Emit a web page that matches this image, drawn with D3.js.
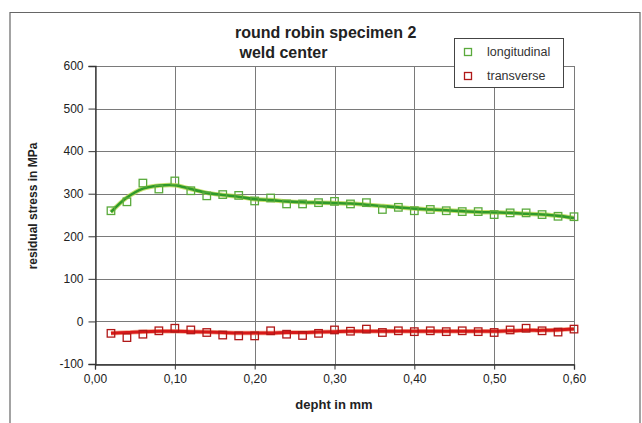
<!DOCTYPE html>
<html>
<head>
<meta charset="utf-8">
<script src="https://cdn.jsdelivr.net/npm/d3@7"></script>
<style>
  html, body { margin: 0; padding: 0; background: #fff; }
  svg { display: block; font-family: "Liberation Sans", Arial, sans-serif; }
</style>
</head>
<body>
<svg id="chart" width="642" height="423"></svg>
<script>
// depth positions of the measurements (mm)
const depth = [0.02,0.04,0.06,0.08,0.10,0.12,0.14,0.16,0.18,0.20,
               0.22,0.24,0.26,0.28,0.30,0.32,0.34,0.36,0.38,0.40,
               0.42,0.44,0.46,0.48,0.50,0.52,0.54,0.56,0.58,0.60];

// measured residual stress (MPa)
const longitudinal = [260,281,325,311,330,307,295,298,296,283,
                      290,276,276,279,282,276,279,263,268,260,
                      263,260,258,258,251,255,255,251,247,246];
const transverse   = [-28,-38,-30,-22,-16,-20,-26,-32,-34,-34,
                      -22,-30,-33,-28,-20,-23,-18,-26,-22,-24,
                      -22,-24,-22,-24,-26,-20,-16,-22,-25,-18];

// smoothed trend curves (MPa)
const longitudinalFit = [257,291,312,319,320,311,302,297,293,287,
                         285,282,280,279,278,277,274,271,268,265,
                         263,261,259,257,256,255,253,251,248,243];
const transverseFit   = [-28,-26,-24,-23,-23,-24,-25,-26,-27,-27,
                         -27,-26,-26,-25,-24,-23,-23,-23,-23,-23,
                         -23,-23,-23,-23,-23,-22,-21,-21,-20,-18];

const xTicks = [0, 0.1, 0.2, 0.3, 0.4, 0.5, 0.6];
const yTicks = [-100, 0, 100, 200, 300, 400, 500, 600];

const titleLines = ["round robin specimen 2", " weld center"];
const seriesNames = ["longitudinal", "transverse"];

const svg = d3.select("#chart");

// outer frame
svg.append("path")
  .attr("d", "M10,423 L10,12.5 L640,12.5 L640,423")
  .attr("fill", "none").attr("stroke", "#666").attr("stroke-width", 1.2);

const plot = { left: 95, right: 574, top: 66, bottom: 364 };

const x = d3.scaleLinear().domain([0, 0.6]).range([plot.left, plot.right]);
const y = d3.scaleLinear().domain([-100, 600]).range([plot.bottom, plot.top]);

// grid
const grid = svg.append("g");
grid.selectAll("line.h").data(yTicks).join("line")
  .attr("x1", plot.left).attr("x2", plot.right)
  .attr("y1", d => Math.round(y(d)) + 0.5).attr("y2", d => Math.round(y(d)) + 0.5)
  .attr("stroke", "#7a7a7a").attr("stroke-width", 1);
grid.selectAll("line.v").data(xTicks).join("line")
  .attr("y1", plot.top).attr("y2", plot.bottom)
  .attr("x1", d => Math.round(x(d)) + 0.5).attr("x2", d => Math.round(x(d)) + 0.5)
  .attr("stroke", "#7a7a7a").attr("stroke-width", 1);

// decimal comma on the depth axis, plain hyphen minus on the stress axis
const fmtX = d => d3.format(".2f")(d).replace(".", ",");
const fmtY = d => String(d);

// axes
const yAxis = svg.append("g")
  .attr("transform", `translate(${plot.left + 0.5},0)`)
  .call(d3.axisLeft(y).tickValues(yTicks).tickSize(7).tickPadding(5).tickFormat(fmtY));
const xAxis = svg.append("g")
  .attr("transform", `translate(0,${Math.round(plot.bottom) + 0.5})`)
  .call(d3.axisBottom(x).tickValues(xTicks).tickSize(5).tickPadding(5).tickFormat(fmtX));
[xAxis, yAxis].forEach(a => {
  a.select(".domain").attr("stroke", "#333").attr("stroke-width", 1.3);
  a.selectAll(".tick line").attr("stroke", "#333");
  a.selectAll(".tick text").attr("fill", "#222").style("font-size", "12px")
    .style("font-family", "'Liberation Sans', Arial, sans-serif");
});

// axis titles
svg.append("text")
  .attr("transform", `translate(37,206) rotate(-90)`)
  .attr("text-anchor", "middle")
  .style("font-size", "12px").style("font-weight", "bold").attr("fill", "#222")
  .text("residual stress in MPa");
svg.append("text")
  .attr("x", 334).attr("y", 409)
  .attr("text-anchor", "middle")
  .style("font-size", "13px").style("font-weight", "bold").attr("fill", "#222")
  .text("depht in mm");

// title
svg.append("text")
  .attr("x", 235).attr("y", 38)
  .style("font-size", "16px").style("font-weight", "bold").attr("fill", "#222")
  .selectAll("tspan").data(titleLines).join("tspan")
  .attr("x", 235).attr("dy", (d, i) => i === 0 ? 0 : 20)
  .attr("xml:space", "preserve")
  .text(d => d);

// trend curves
const line = d3.line().x((d, i) => x(depth[i])).y(d => y(d)).curve(d3.curveCatmullRom.alpha(0.5));

svg.append("path").datum(longitudinalFit)
  .attr("d", line).attr("fill", "none")
  .attr("stroke", "#b8d84a").attr("stroke-width", 4.5).attr("stroke-opacity", 0.8);
svg.append("path").datum(longitudinalFit)
  .attr("d", line).attr("fill", "none")
  .attr("stroke", "#2f9a2a").attr("stroke-width", 2.6);

svg.append("path").datum(transverseFit)
  .attr("d", line).attr("fill", "none")
  .attr("stroke", "#f08060").attr("stroke-width", 4.5).attr("stroke-opacity", 0.7);
svg.append("path").datum(transverseFit)
  .attr("d", line).attr("fill", "none")
  .attr("stroke", "#d81818").attr("stroke-width", 3);

// measured points
const sq = 7.5;
function markers(values, color) {
  svg.append("g").selectAll("rect").data(values).join("rect")
    .attr("x", (d, i) => x(depth[i]) - sq / 2)
    .attr("y", d => y(d) - sq / 2)
    .attr("width", sq).attr("height", sq)
    .attr("fill", "none").attr("stroke", color).attr("stroke-width", 1.3);
}
markers(longitudinal, "#5aaa3c");
markers(transverse, "#b01818");

// legend
const lg = svg.append("g");
lg.append("rect").attr("x", 454.5).attr("y", 38.5).attr("width", 109).attr("height", 49)
  .attr("fill", "#fff").attr("stroke", "#444").attr("stroke-width", 1);
const legendColors = ["#5aaa3c", "#b01818"];
seriesNames.forEach((name, i) => {
  const cy = 52 + i * 24;
  lg.append("rect").attr("x", 468 - 3.5).attr("y", cy - 3.5).attr("width", 7).attr("height", 7)
    .attr("fill", "none").attr("stroke", legendColors[i]).attr("stroke-width", 1.3);
  lg.append("text").attr("x", 487).attr("y", cy + 4)
    .style("font-size", "12.5px").attr("fill", "#333").text(name);
});
</script>
</body>
</html>
